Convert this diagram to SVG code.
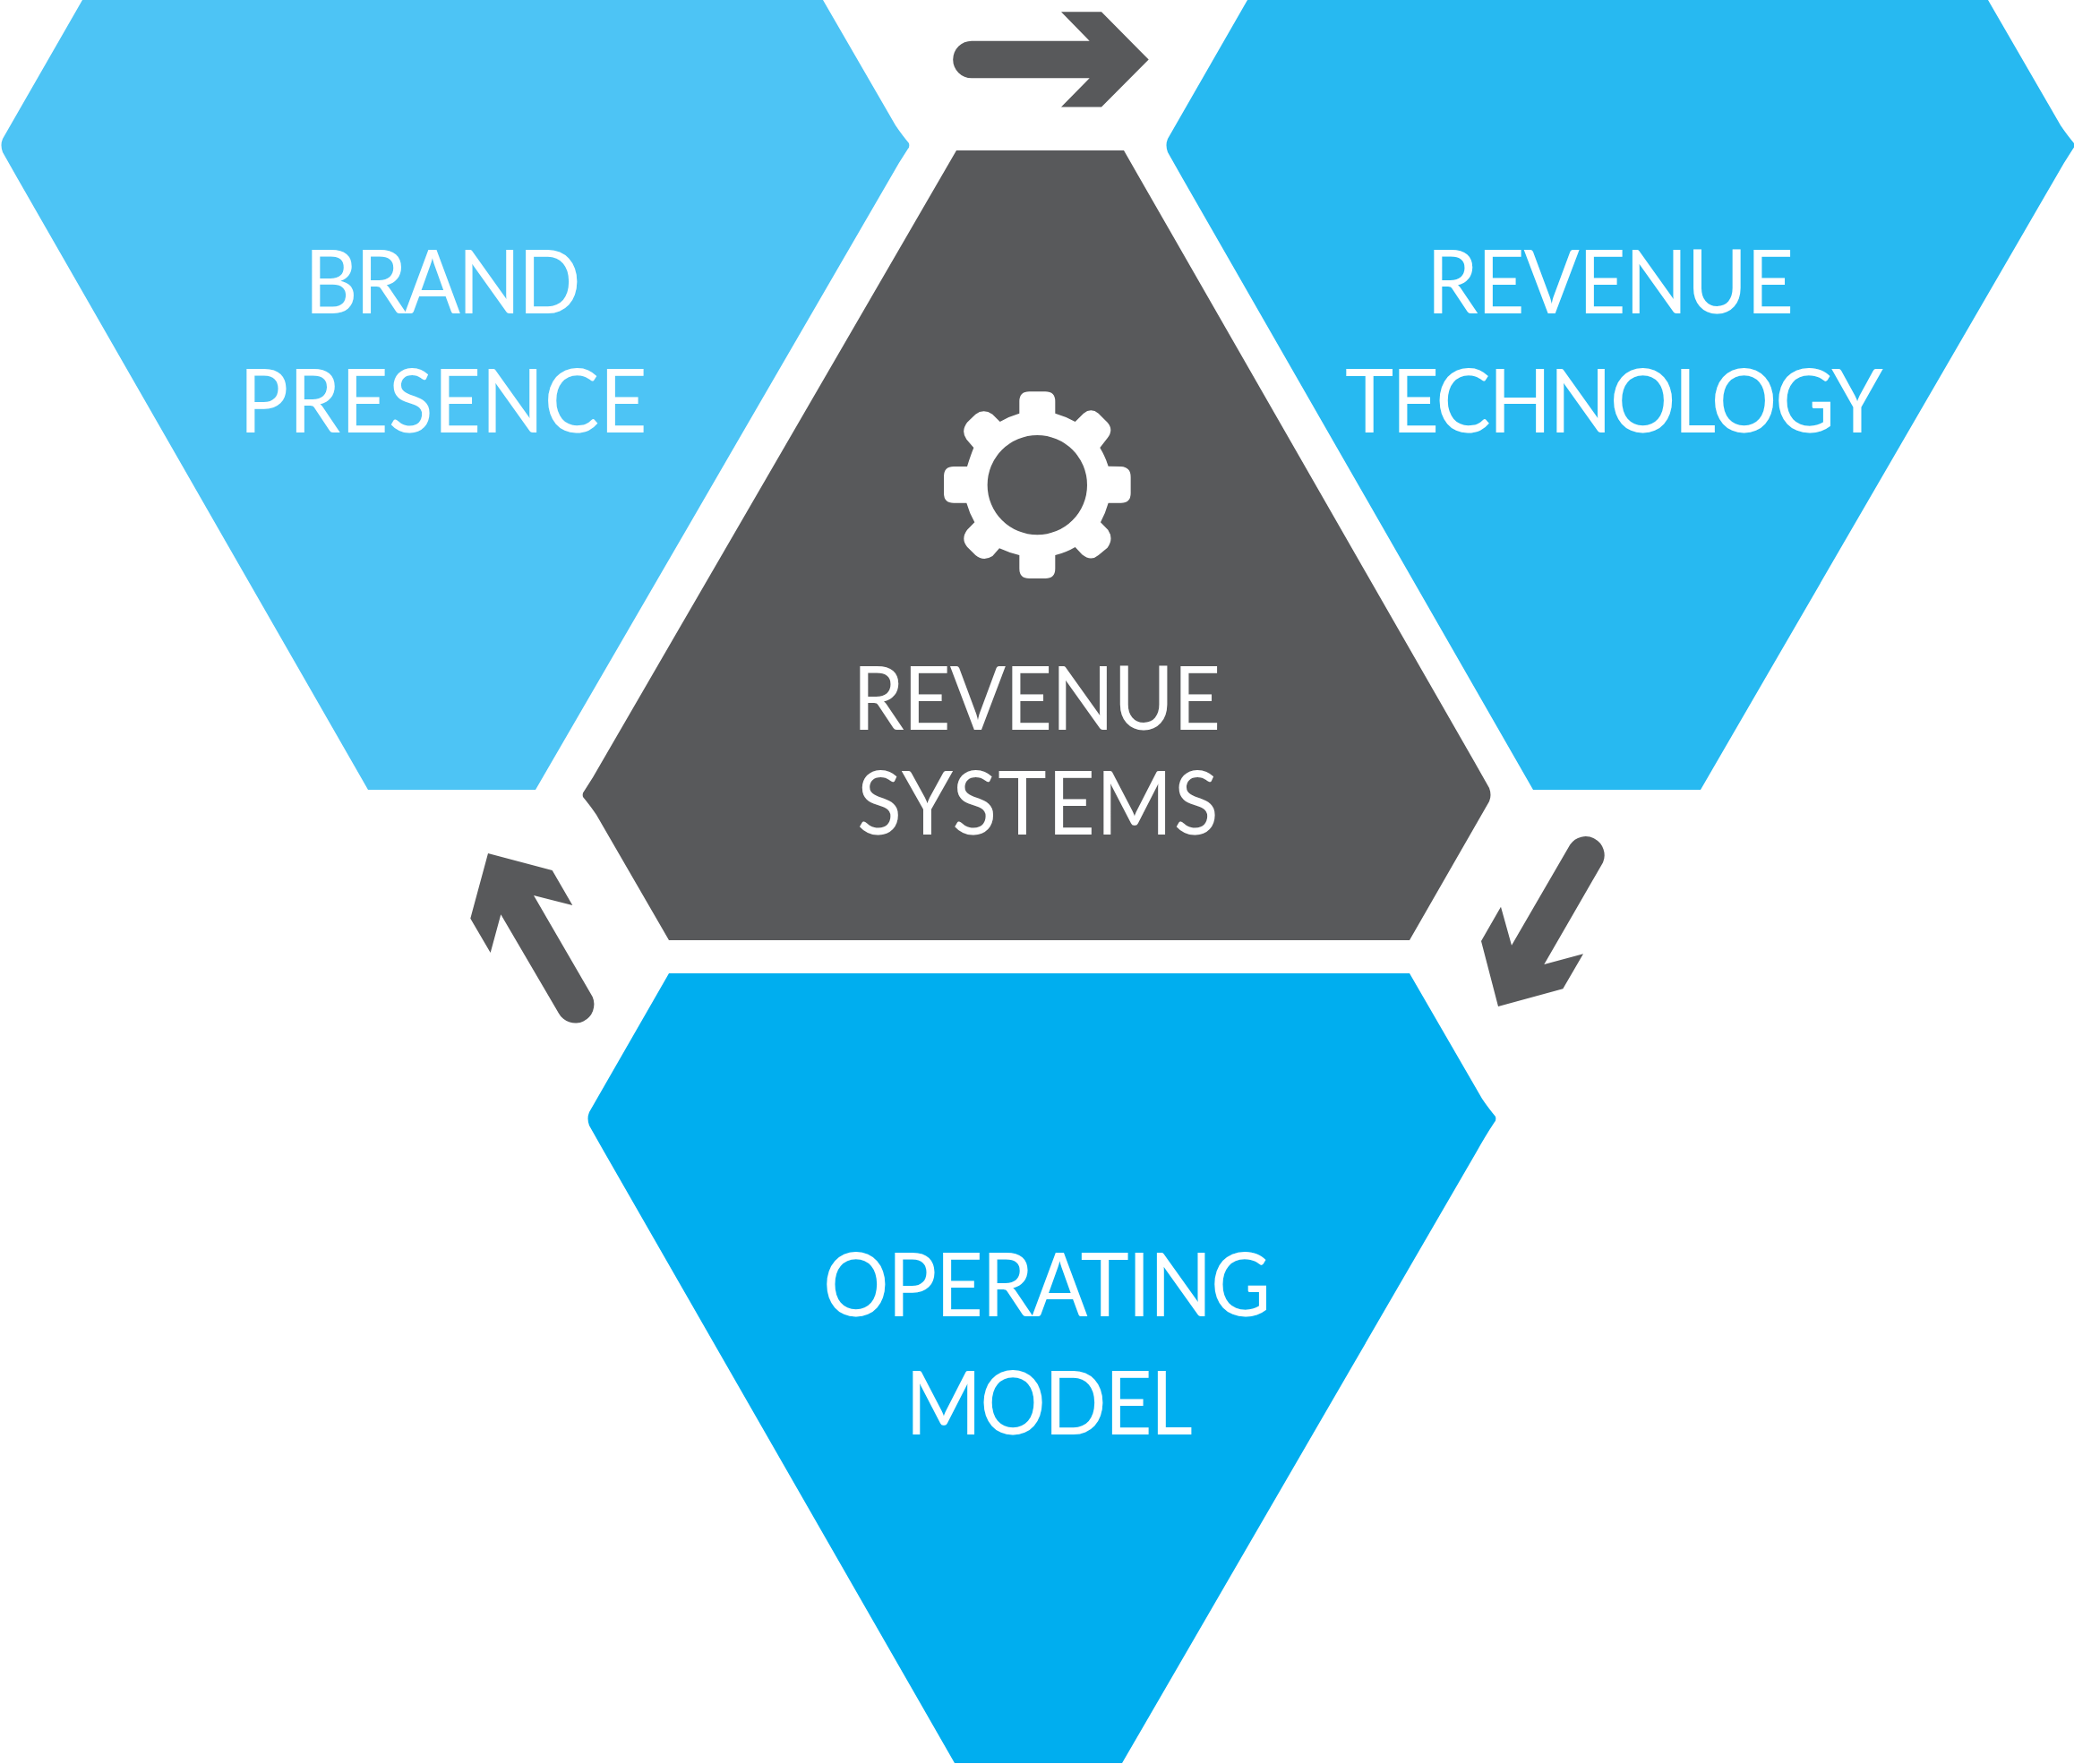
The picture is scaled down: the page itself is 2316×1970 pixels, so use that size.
<svg xmlns="http://www.w3.org/2000/svg" width="2316" height="1970" viewBox="0 0 2316 1970">
<style>
text{font-family:"Lato","Open Sans","Liberation Sans",sans-serif;font-size:99px;fill:#fff}
.dark{fill:#58595B}
.b{fill:#4DC4F5}.t{fill:#27B9F1}.o{fill:#00AEEF}
</style>
<defs>
<path id="hex" d="M92,0 L919,0 L1000,140 Q1006,149 1015,160 Q1016,164 1014,166 Q1004,181 994,199 L598,882 L411,882 L20,200 L3,170 Q0,162 3,155 Z"/>
</defs>
<rect width="2316" height="1970" fill="#fff"/>
<g id="brand-presence">
<use href="#hex" class="b"/>
<text transform="translate(340,350) scale(.93,1)" textLength="332">BRAND</text>
<text transform="translate(267,483) scale(.93,1)" textLength="490">PRESENCE</text>
</g>
<g id="revenue-technology">
<use href="#hex" class="t" x="1301"/>
<text transform="translate(1593,350) scale(.93,1)" textLength="441">REVENUE</text>
<text transform="translate(1502,483) scale(.93,1)" textLength="646">TECHNOLOGY</text>
</g>
<g id="revenue-systems">
<use href="#hex" class="dark" transform="translate(1666,1050) rotate(180)"/>
<text transform="translate(952,815) scale(.93,1)" textLength="442">REVENUE</text>
<text transform="translate(957,932) scale(.93,1)" textLength="434">SYSTEMS</text>
<path fill="#fff" fill-rule="evenodd" transform="translate(1030,420) scale(.3333)" d="M325,125 L325,85 Q325,52 358,52 L412,52 Q445,52 445,85 L445,125 Q480,135 512,153 L540,125 Q565,105 590,125 L620,155 Q642,180 620,208 L595,240 Q613,270 623,302 L665,303 Q698,305 698,338 L698,392 Q698,425 665,425 L623,425 Q613,460 597,490 L622,515 Q642,545 620,575 L590,600 Q565,622 535,598 L512,573 Q480,592 445,600 L445,645 Q445,678 412,678 L358,678 Q325,678 325,645 L325,600 Q290,592 258,577 L235,603 Q205,622 178,600 L150,572 Q128,545 150,515 L175,490 Q158,460 148,425 L105,425 Q72,425 72,392 L72,336 Q72,303 105,303 L150,303 Q160,270 172,240 L148,212 Q128,185 150,155 L178,128 Q205,108 235,128 L260,153 Q290,135 325,125 Z M552,365 A167,167 0 1 0 218,365 A167,167 0 1 0 552,365 Z"/>
</g>
<g id="operating-model">
<use href="#hex" class="o" x="655" y="1087"/>
<text transform="translate(919,1470) scale(.93,1)" textLength="538">OPERATING</text>
<text transform="translate(1011,1602) scale(.93,1)" textLength="345">MODEL</text>
</g>
<g id="connectors" class="dark">
<path d="M1085,45.7 L1216.7,45.7 L1185,13.3 L1230,13.3 L1282.7,66.5 L1230,119.5 L1185,119.5 L1216.7,87.3 L1085,87.3 A20.8,20.8 0 0 1 1085,45.7 Z"/>
<path d="M545,953 L616.7,972 L639.3,1011 L596,1000 L661.7,1113.3 A21,21 0 0 1 624,1131.7 L559.3,1021.3 L547.7,1064 L525.3,1025.7 Z"/>
<path d="M1673,1124 L1654,1051 L1676,1012.7 L1688,1055.7 L1753.3,943.3 A21,21 0 0 1 1790,963.3 L1724.3,1077 L1768,1065.3 L1745.3,1104.3 Z"/>
</g>
</svg>
